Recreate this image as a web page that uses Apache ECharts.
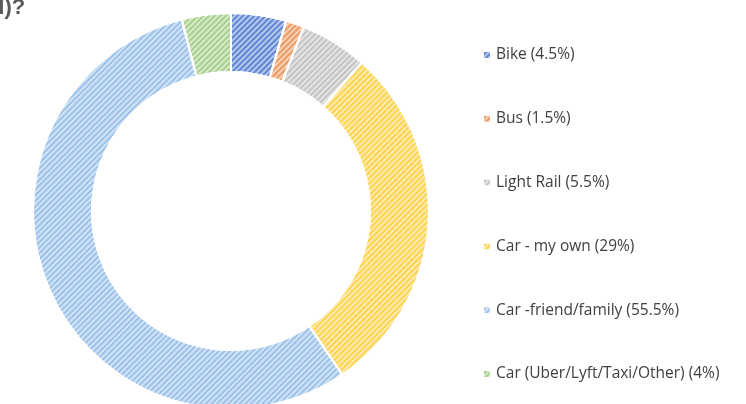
<!DOCTYPE html>
<html>
<head>
<meta charset="utf-8">
<script src="https://cdn.jsdelivr.net/npm/echarts@6/dist/echarts.min.js"></script>
<style>
  html, body { margin: 0; padding: 0; background: #fff; }
  #chart { width: 746px; height: 404px; }
</style>
</head>
<body>
<div id="chart"></div>
<script>
var categories = [
  "Bike (4.5%)",
  "Bus (1.5%)",
  "Light Rail (5.5%)",
  "Car - my own (29%)",
  "Car -friend/family (55.5%)",
  "Car (Uber/Lyft/Taxi/Other) (4%)"
];
var shares = [4.5, 1.5, 5.5, 29, 55.5, 4];
var colors = ["#5f86d4", "#ec9a62", "#c4c4c4", "#fdd34f", "#9cc2ea", "#a6d08c"];

var chart = echarts.init(document.getElementById("chart"));

var hatch = {
  symbol: "rect",
  color: "rgba(255,255,255,0.55)",
  dashArrayX: [1, 0],
  dashArrayY: [2, 2],
  rotation: -Math.PI / 4
};

var data = categories.map(function (name, i) {
  return {
    name: name,
    value: shares[i],
    itemStyle: { color: colors[i], decal: hatch }
  };
});

var option = {
  animation: false,
  graphic: [
    {
      type: "text",
      left: -9,
      top: -3,
      style: {
        text: "d)?",
        font: "bold 22px 'Liberation Sans'",
        fill: "#3c3c3c",
        opacity: 0.85
      }
    }
  ],
  legend: {
    orient: "vertical",
    left: 477,
    top: 40,
    itemWidth: 8,
    itemHeight: 8,
    itemGap: 43.8,
    icon: "rect",
    textStyle: {
      fontFamily: "Open Sans",
      fontSize: 15.5,
      lineHeight: 20,
      color: "#404040"
    },
    data: categories
  },
  series: [
    {
      type: "pie",
      center: [231, 211],
      radius: [139, 198],
      startAngle: 90,
      clockwise: true,
      label: { show: false },
      labelLine: { show: false },
      emphasis: { disabled: true },
      itemStyle: { borderColor: "#ffffff", borderWidth: 2 },
      data: data
    }
  ]
};
chart.setOption(option);
</script>
</body>
</html>
